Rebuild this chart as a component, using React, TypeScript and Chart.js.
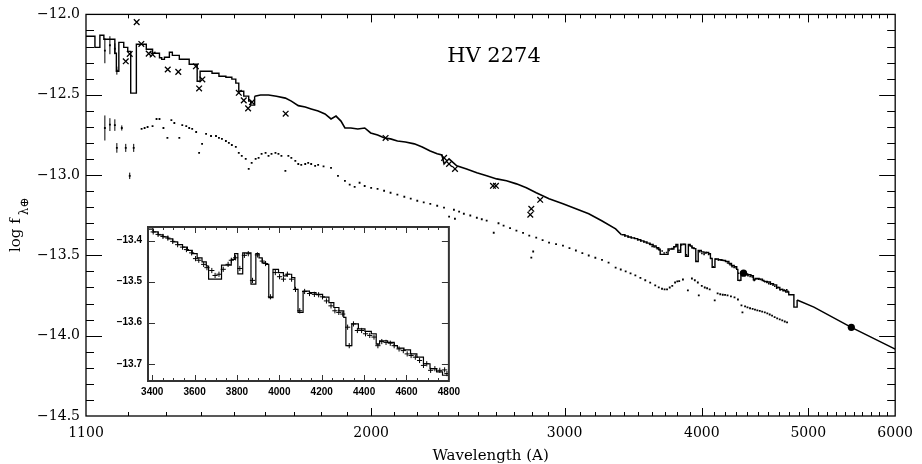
import { useEffect, useRef } from "react";
import { Chart, registerables } from "chart.js";

Chart.register(...registerables);

// ---------------- text ----------------
const TITLE = "HV 2274";
const X_TITLE = "Wavelength (A)";
const Y_TITLE_MAIN = "log f";
const Y_TITLE_SUB = "λ⊕";

// ---------------- main axes ----------------
const X_MIN = 1100;
const X_MAX = 6000;
const Y_MIN = -14.5;
const Y_MAX = -12.0;
const X_TICKS = [1100, 2000, 3000, 4000, 5000, 6000];
const Y_TICKS = [-14.5, -14.0, -13.5, -13.0, -12.5, -12.0];

// ---------------- inset axes ----------------
const INSET_X_MIN = 3380;
const INSET_X_MAX = 4800;
const INSET_Y_MIN = -13.742;
const INSET_Y_MAX = -13.367;
const INSET_X_TICKS = [3400, 3600, 3800, 4000, 4200, 4400, 4600, 4800];
const INSET_Y_TICKS = [-13.7, -13.6, -13.5, -13.4];

// ---------------- data: [wavelength (A), log flux] ----------------
// model spectrum, far-UV part (step function: each value holds to next wavelength)
const MODEL_UV_STEP: [number, number][] = [
  [1100, -12.136], [1120.8, -12.205], [1132.5, -12.13], [1142, -12.155], [1168.6, -12.242],
  [1172.3, -12.354], [1178.4, -12.174], [1190.6, -12.205], [1200.6, -12.23], [1208.1, -12.49],
  [1222.5, -12.186], [1248.2, -12.217], [1264.7, -12.242], [1283.2, -12.27], [1289.3, -12.28],
  [1296.6, -12.267], [1310.1, -12.236], [1318.3, -12.255], [1337.7, -12.279], [1365.7, -12.31],
  [1388.7, -12.416], [1397.3, -12.354], [1414.9, -12.354], [1432.6, -12.366], [1453.6, -12.385],
  [1474.9, -12.391], [1493.4, -12.403], [1505.9, -12.428], [1515.3, -12.478], [1531.2, -12.509],
  [1547.2, -12.54], [1553.6, -12.565], [1566.5, -12.509],
];

// model spectrum, near-UV part (smooth)
const MODEL_UV_SMOOTH: [number, number][] = [
  [1566.5, -12.509], [1586.2, -12.502], [1612.8, -12.502], [1639.8, -12.509], [1670.8, -12.521],
  [1691.8, -12.54], [1716.6, -12.568], [1741.8, -12.577], [1763.7, -12.589], [1789.6, -12.602],
  [1815.5, -12.62], [1838.6, -12.651], [1857.9, -12.633], [1877.3, -12.664], [1893, -12.707],
  [1916.6, -12.707], [1944.7, -12.713], [1973.3, -12.707], [1998, -12.738], [2027.4, -12.751],
  [2057, -12.769], [2082.9, -12.775], [2113.4, -12.788], [2148.9, -12.794], [2189.4, -12.806],
  [2226, -12.825], [2263.6, -12.85], [2296.8, -12.868], [2320, -12.875], [2330.4, -12.931],
  [2354.7, -12.899], [2393.2, -12.943], [2443, -12.962], [2496, -12.986], [2548, -13.005],
  [2602, -13.024], [2656, -13.036], [2712, -13.055], [2769, -13.079], [2827, -13.11],
  [2904, -13.148], [2990, -13.179], [3072, -13.21], [3156, -13.241], [3243, -13.285],
  [3339, -13.335], [3380, -13.372],
];

// model spectrum, optical part (also shown in the inset)
const MODEL_OPT: [number, number][] = [
  [3380, -13.372], [3405, -13.379], [3428, -13.386], [3451, -13.391], [3474, -13.396],
  [3497, -13.403], [3520, -13.41], [3543, -13.416], [3566, -13.424], [3589, -13.432],
  [3612, -13.442], [3635, -13.452], [3655, -13.462], [3666, -13.494], [3727, -13.46],
  [3773, -13.446], [3789, -13.432], [3804, -13.481], [3827, -13.43], [3866, -13.506],
  [3889, -13.432], [3904, -13.442], [3919, -13.454], [3935, -13.458], [3950, -13.539],
  [3970, -13.47], [3996, -13.478], [4019, -13.486], [4035, -13.482], [4058, -13.49],
  [4073, -13.519], [4088, -13.575], [4112, -13.523], [4142, -13.527], [4173, -13.531],
  [4204, -13.538], [4234, -13.551], [4257, -13.563], [4281, -13.571], [4304, -13.587],
  [4314, -13.656], [4342, -13.603], [4373, -13.615], [4404, -13.621], [4434, -13.627],
  [4457, -13.652], [4473, -13.644], [4511, -13.648], [4542, -13.656], [4557, -13.662],
  [4588, -13.666], [4619, -13.676], [4649, -13.684], [4680, -13.7], [4711, -13.712],
  [4742, -13.72], [4770, -13.728], [4800, -13.728],
];

// model spectrum, red end (main plot only)
const MODEL_RED_STEP: [number, number][] = [
  [4800, -13.745], [4852, -13.822], [4885, -13.778],
];
const MODEL_RED_TAIL: [number, number][] = [
  [4885, -13.778], [5060, -13.822], [5473, -13.948], [6000, -14.084],
];

// observed spectrum points in the optical (inset crosses)
const OBS_OPT: [number, number][] = [
  [3404.6, -13.379], [3427.6, -13.385], [3450.7, -13.39], [3473.7, -13.394], [3496.8, -13.402],
  [3519.9, -13.41], [3542.9, -13.416], [3561.3, -13.422], [3585.9, -13.43], [3604.4, -13.444],
  [3619.7, -13.448], [3642.8, -13.458], [3658.2, -13.466], [3681.2, -13.473], [3696.6, -13.485],
  [3715, -13.482], [3735, -13.47], [3758.1, -13.458], [3773.4, -13.448], [3793.4, -13.442],
  [3813.4, -13.468], [3834.9, -13.436], [3853.3, -13.432], [3873.3, -13.497], [3896.4, -13.435],
  [3919.4, -13.45], [3934.8, -13.456], [3957.8, -13.537], [3980.9, -13.478], [4000.9, -13.488],
  [4019.3, -13.494], [4037.8, -13.482], [4057.7, -13.494], [4076.2, -13.519], [4096.2, -13.571],
  [4119.2, -13.524], [4142.3, -13.529], [4165.3, -13.531], [4185.3, -13.532], [4203.7, -13.537],
  [4222.2, -13.547], [4243.7, -13.559], [4262.1, -13.571], [4280.6, -13.575], [4299, -13.579],
  [4322.1, -13.611], [4329.8, -13.656], [4349.7, -13.603], [4368.2, -13.619], [4388.2, -13.619],
  [4406.6, -13.627], [4426.6, -13.631], [4446.6, -13.635], [4465, -13.656], [4483.4, -13.646],
  [4503.4, -13.648], [4523.4, -13.65], [4541.8, -13.656], [4564.9, -13.664], [4584.9, -13.668],
  [4603.3, -13.676], [4621.7, -13.68], [4641.7, -13.684], [4661.7, -13.692], [4680.1, -13.704],
  [4695.5, -13.7], [4713.9, -13.716], [4733.9, -13.712], [4757, -13.716], [4780, -13.715],
  [4790.8, -13.724],
];

// observed (lower) spectrum dots
const OBS_LOWER: [number, number][] = [
  [1236, -12.713], [1243.8, -12.707], [1251.6, -12.701], [1264.7, -12.695], [1275.3, -12.651],
  [1283.2, -12.651], [1293.9, -12.707], [1304.7, -12.769], [1315.6, -12.658], [1323.8, -12.676],
  [1337.7, -12.769], [1346, -12.689], [1357.3, -12.695], [1365.7, -12.707], [1374.3, -12.713],
  [1385.8, -12.732], [1394.4, -12.862], [1403.1, -12.806], [1414.9, -12.744], [1429.6, -12.757],
  [1444.6, -12.757], [1453.6, -12.769], [1462.7, -12.775], [1474.9, -12.788], [1484.1, -12.8],
  [1493.4, -12.813], [1505.9, -12.825], [1515.3, -12.862], [1524.8, -12.881], [1537.5, -12.899],
  [1547.2, -12.962], [1556.8, -12.924], [1569.8, -12.899], [1579.6, -12.893], [1589.5, -12.868],
  [1602.8, -12.862], [1612.8, -12.881], [1622.9, -12.868], [1636.4, -12.862], [1646.7, -12.868],
  [1657, -12.881], [1670.8, -12.974], [1681.3, -12.881], [1691.8, -12.893], [1706, -12.912],
  [1716.6, -12.931], [1727.4, -12.937], [1741.8, -12.931], [1752.7, -12.924], [1763.7, -12.931],
  [1778.4, -12.943], [1789.6, -12.937], [1810, -12.946], [1838.6, -12.955], [1865.6, -13.005],
  [1893, -13.036], [1912, -13.06], [1932, -13.074], [1952, -13.048], [1973, -13.068],
  [2000, -13.08], [2027, -13.086], [2055, -13.098], [2083, -13.11], [2113, -13.122],
  [2144, -13.135], [2173, -13.147], [2203, -13.16], [2233, -13.17], [2264, -13.179],
  [2297, -13.191], [2330, -13.203], [2355, -13.259], [2379, -13.216], [2384, -13.272],
  [2405, -13.228], [2429, -13.241], [2462, -13.252], [2496, -13.266], [2522, -13.275],
  [2548, -13.284], [2586, -13.359], [2612, -13.3], [2640, -13.315], [2676, -13.33],
  [2712, -13.346], [2750, -13.36], [2786, -13.377], [2798, -13.514], [2809, -13.476],
  [2827, -13.39], [2865, -13.405], [2904, -13.421], [2947, -13.43], [2990, -13.439],
  [3031, -13.455], [3072, -13.47], [3114, -13.486], [3156, -13.501], [3200, -13.515],
  [3245, -13.528], [3290, -13.545], [3339, -13.576], [3375, -13.588], [3410, -13.6],
  [3445, -13.612], [3480, -13.625], [3517, -13.64], [3553, -13.655], [3590, -13.67],
  [3628, -13.687], [3655, -13.699], [3680, -13.708], [3700, -13.712], [3719, -13.712],
  [3740, -13.7], [3760, -13.69], [3782, -13.669], [3800, -13.662], [3815, -13.66],
  [3845, -13.65], [3885, -13.718], [3918, -13.644], [3942, -13.655], [3967, -13.669],
  [3975, -13.749], [4000, -13.69], [4025, -13.7], [4045, -13.705], [4067, -13.712],
  [4110, -13.78], [4135, -13.737], [4158, -13.742], [4180, -13.745], [4200, -13.746],
  [4222, -13.749], [4252, -13.755], [4284, -13.762], [4315, -13.775], [4347, -13.811],
  [4356, -13.855], [4380, -13.818], [4402, -13.824], [4426, -13.829], [4450, -13.833],
  [4472, -13.838], [4494, -13.842], [4517, -13.846], [4540, -13.85], [4565, -13.855],
  [4589, -13.861], [4612, -13.868], [4635, -13.875], [4660, -13.884], [4685, -13.892],
  [4710, -13.898], [4735, -13.905], [4760, -13.912], [4783, -13.917],
];

// short-wavelength points with error bars: [wavelength, log flux, error]
const OBS_LOWER_EB: [number, number, number][] = [
  [1144.4, -12.707, 0.078], [1156.5, -12.686, 0.04], [1168.6, -12.689, 0.036],
  [1185.7, -12.707, 0.016], [1173.5, -12.831, 0.03], [1195.6, -12.831, 0.025],
  [1215.7, -12.831, 0.025], [1205.6, -13.005, 0.02],
];
const OBS_UPPER_EB: [number, number, number][] = [
  [1144.4, -12.226, 0.078], [1156.5, -12.192, 0.056], [1168.6, -12.214, 0.034],
  [1173.5, -12.35, 0.025],
];

// crosses
const CROSSES: [number, number][] = [
  [1195.6, -12.292], [1205.6, -12.246], [1223.3, -12.048], [1235.3, -12.184], [1254.5, -12.244],
  [1264.9, -12.25], [1305.6, -12.343], [1334.8, -12.358], [1385, -12.323], [1394.4, -12.461],
  [1403.9, -12.405], [1515.3, -12.488], [1531.2, -12.535], [1545.2, -12.585], [1558, -12.546],
  [1671.8, -12.618], [2061.4, -12.769], [2330.4, -12.893], [2354.7, -12.931], [2384.3, -12.962],
  [2582, -13.067], [2598, -13.067], [2792, -13.247], [2798, -13.21], [2850.5, -13.154],
];

// photometry (filled circles)
const PHOT: [number, number][] = [
  [4366, -13.611], [5473, -13.948],
];

// ---------------- helpers ----------------
const xy = (arr: number[][]) => arr.map((p) => ({ x: p[0], y: p[1] }));
const fmtNeg = (v: number) => (v < 0 ? "\u2212" : "") + Math.abs(v).toFixed(1);

type FrameCfg = {
  xMinor: number[];
  xMajor: number[];
  yMinor: number[];
  yMajor: number[];
  xMinorLen: number;
  xMajorLen: number;
  yMinorLen: number;
  yMajorLen: number;
  frameWidth: number;
  frameColor: string;
  tickWidth: number;
};

function framePlugin(cfg: FrameCfg) {
  return {
    id: "frameTicks",
    afterDatasetsDraw(chart: any) {
      const { ctx, chartArea: a } = chart;
      const xs = chart.scales.x;
      const ys = chart.scales.y;
      ctx.save();
      ctx.strokeStyle = cfg.frameColor;
      ctx.lineWidth = cfg.tickWidth;
      ctx.beginPath();
      const vx = (v: number, len: number) => {
        const p = Math.round(xs.getPixelForValue(v)) + 0.5;
        ctx.moveTo(p, a.bottom);
        ctx.lineTo(p, a.bottom - len);
        ctx.moveTo(p, a.top);
        ctx.lineTo(p, a.top + len);
      };
      const hy = (v: number, len: number) => {
        const p = Math.round(ys.getPixelForValue(v)) + 0.5;
        ctx.moveTo(a.left, p);
        ctx.lineTo(a.left + len, p);
        ctx.moveTo(a.right, p);
        ctx.lineTo(a.right - len, p);
      };
      cfg.xMinor.forEach((v) => vx(v, cfg.xMinorLen));
      cfg.xMajor.forEach((v) => vx(v, cfg.xMajorLen));
      cfg.yMinor.forEach((v) => hy(v, cfg.yMinorLen));
      cfg.yMajor.forEach((v) => hy(v, cfg.yMajorLen));
      ctx.stroke();
      ctx.lineWidth = cfg.frameWidth;
      ctx.strokeRect(a.left, a.top, a.right - a.left, a.bottom - a.top);
      ctx.restore();
    },
  };
}

const errorBarPlugin = {
  id: "errorBars",
  afterDatasetsDraw(chart: any) {
    const { ctx } = chart;
    const ys = chart.scales.y;
    chart.data.datasets.forEach((ds: any, i: number) => {
      if (!ds.errors) return;
      const meta = chart.getDatasetMeta(i);
      ctx.save();
      ctx.strokeStyle = "#000";
      ctx.lineWidth = 1;
      ctx.beginPath();
      meta.data.forEach((el: any, j: number) => {
        const d = ds.data[j];
        const e = ds.errors[j];
        ctx.moveTo(el.x, ys.getPixelForValue(d.y - e));
        ctx.lineTo(el.x, ys.getPixelForValue(d.y + e));
      });
      ctx.stroke();
      ctx.restore();
    });
  },
};

const mainTextPlugin = {
  id: "mainText",
  afterDraw(chart: any) {
    const { ctx, chartArea: a } = chart;
    ctx.save();
    ctx.fillStyle = "#000";
    ctx.textBaseline = "alphabetic";
    ctx.textAlign = "center";
    ctx.font = '21px "DejaVu Serif"';
    ctx.fillText(TITLE, 494, 62);
    ctx.font = '15px "DejaVu Serif"';
    ctx.fillText(X_TITLE, (a.left + a.right) / 2, 460);
    ctx.translate(19.5, 252);
    ctx.rotate(-Math.PI / 2);
    ctx.textAlign = "left";
    ctx.fillText(Y_TITLE_MAIN, 0, 0);
    const w = ctx.measureText(Y_TITLE_MAIN).width;
    ctx.font = '12px "DejaVu Serif"';
    ctx.fillText(Y_TITLE_SUB, w + 3, 8);
    ctx.restore();
  },
};

function range(from: number, to: number, step: number, skip: number[] = []) {
  const out: number[] = [];
  for (let v = from; v <= to + 1e-9; v += step) {
    const r = Math.round(v * 1000) / 1000;
    if (!skip.some((s) => Math.abs(s - r) < 1e-6)) out.push(r);
  }
  return out;
}

const lineDs = (data: number[][], stepped: boolean, width: number) =>
  ({
    data: xy(data),
    stepped,
    borderColor: "#000",
    borderWidth: width,
    pointRadius: 0,
    fill: false,
  }) as any;

const dotDs = (data: number[][], r: number, extra: any = {}) =>
  ({
    data: xy(data),
    showLine: false,
    pointStyle: "rect",
    pointRadius: r,
    pointBorderWidth: 0,
    pointBackgroundColor: "#000",
    ...extra,
  }) as any;

export default function App() {
  const mainRef = useRef<HTMLCanvasElement>(null);
  const insetRef = useRef<HTMLCanvasElement>(null);

  useEffect(() => {
    const serif = "DejaVu Serif";

    const mainFrame = framePlugin({
      xMinor: range(1200, 5900, 100, [2000, 3000, 4000, 5000]),
      xMajor: [2000, 3000, 4000, 5000],
      yMinor: range(-14.4, -12.1, 0.1, [-14.0, -13.5, -13.0, -12.5]),
      yMajor: [-14.0, -13.5, -13.0, -12.5],
      xMinorLen: 4,
      xMajorLen: 8,
      yMinorLen: 8,
      yMajorLen: 16,
      frameWidth: 1.3,
      frameColor: "#000",
      tickWidth: 1,
    });

    const main = new Chart(mainRef.current as HTMLCanvasElement, {
      type: "line",
      data: {
        datasets: [
          lineDs(MODEL_UV_STEP, true, 1.4),
          lineDs(MODEL_UV_SMOOTH, false, 1.6),
          lineDs([...MODEL_OPT.slice(0, -1), ...MODEL_RED_STEP], true, 1.4),
          lineDs(MODEL_RED_TAIL, false, 1.5),
          dotDs(OBS_OPT, 1.1),
          dotDs(OBS_LOWER, 1.3),
          dotDs(OBS_LOWER_EB, 1.3, { errors: OBS_LOWER_EB.map((p) => p[2]) }),
          dotDs(OBS_UPPER_EB, 1.3, { errors: OBS_UPPER_EB.map((p) => p[2]) }),
          {
            data: xy(CROSSES),
            showLine: false,
            pointStyle: "crossRot",
            pointRadius: 4,
            pointBorderWidth: 1.3,
            pointBorderColor: "#000",
          },
          {
            data: xy(PHOT),
            showLine: false,
            pointStyle: "circle",
            pointRadius: 3.6,
            pointBorderWidth: 0,
            pointBackgroundColor: "#000",
          },
        ],
      },
      options: {
        responsive: false,
        animation: false,
        events: [],
        layout: { padding: { top: 13, right: 20, left: 0, bottom: 0 } },
        plugins: { legend: { display: false }, tooltip: { enabled: false } },
        scales: {
          x: {
            type: "logarithmic",
            min: X_MIN,
            max: X_MAX,
            grid: { display: false, drawTicks: false },
            border: { display: false },
            afterBuildTicks: (s: any) => {
              s.ticks = X_TICKS.map((v) => ({ value: v }));
            },
            afterFit: (s: any) => {
              s.height = 48;
            },
            ticks: {
              autoSkip: false,
              maxRotation: 0,
              minRotation: 0,
              padding: 9,
              color: "#000",
              font: { family: serif, size: 14 },
              callback: (v: any) => String(v),
            },
          },
          y: {
            type: "linear",
            min: Y_MIN,
            max: Y_MAX,
            grid: { display: false, drawTicks: false },
            border: { display: false },
            afterBuildTicks: (s: any) => {
              s.ticks = Y_TICKS.map((v) => ({ value: v }));
            },
            afterFit: (s: any) => {
              s.width = 86;
            },
            ticks: {
              padding: 6,
              color: "#000",
              font: { family: serif, size: 14 },
              callback: (v: any) => fmtNeg(Number(v)),
            },
          },
        },
      } as any,
      plugins: [mainFrame, errorBarPlugin, mainTextPlugin],
    });

    const insetFrame = framePlugin({
      xMinor: range(3450, 4750, 50, [3600, 3800, 4000, 4200, 4400, 4600]),
      xMajor: [3400, 3600, 3800, 4000, 4200, 4400, 4600],
      yMinor: [],
      yMajor: INSET_Y_TICKS,
      xMinorLen: 3,
      xMajorLen: 6,
      yMinorLen: 3,
      yMajorLen: 7,
      frameWidth: 2,
      frameColor: "#333",
      tickWidth: 1,
    });

    const sans = "Liberation Sans";
    const inset = new Chart(insetRef.current as HTMLCanvasElement, {
      type: "line",
      data: {
        datasets: [
          lineDs(MODEL_OPT, true, 1.2),
          {
            data: xy(OBS_OPT),
            showLine: false,
            pointStyle: "cross",
            pointRadius: 2.6,
            pointBorderWidth: 1,
            pointBorderColor: "#000",
          },
        ],
      },
      options: {
        responsive: false,
        animation: false,
        events: [],
        layout: { padding: { top: 11, right: 9, left: 0, bottom: 0 } },
        plugins: { legend: { display: false }, tooltip: { enabled: false } },
        scales: {
          x: {
            type: "linear",
            min: INSET_X_MIN,
            max: INSET_X_MAX,
            grid: { display: false, drawTicks: false },
            border: { display: false },
            afterBuildTicks: (s: any) => {
              s.ticks = INSET_X_TICKS.map((v) => ({ value: v }));
            },
            afterFit: (s: any) => {
              s.height = 24;
            },
            ticks: {
              autoSkip: false,
              maxRotation: 0,
              minRotation: 0,
              padding: 5,
              color: "#000",
              font: { family: sans, size: 10, weight: "bold" },
              callback: (v: any) => String(v),
            },
          },
          y: {
            type: "linear",
            min: INSET_Y_MIN,
            max: INSET_Y_MAX,
            grid: { display: false, drawTicks: false },
            border: { display: false },
            afterBuildTicks: (s: any) => {
              s.ticks = INSET_Y_TICKS.map((v) => ({ value: v }));
            },
            afterFit: (s: any) => {
              s.width = 48;
            },
            ticks: {
              padding: 6,
              color: "#000",
              font: { family: sans, size: 10, weight: "bold" },
              callback: (v: any) => fmtNeg(Number(v)),
            },
          },
        },
      } as any,
      plugins: [insetFrame],
    });

    return () => {
      main.destroy();
      inset.destroy();
    };
  }, []);

  return (
    <div style={{ position: "absolute", left: 0, top: 0, width: 922, height: 464, background: "#fff" }}>
      <canvas ref={mainRef} width={922} height={464} style={{ position: "absolute", left: 0, top: 0 }} />
      <canvas ref={insetRef} width={365} height={190} style={{ position: "absolute", left: 100, top: 215 }} />
    </div>
  );
}
